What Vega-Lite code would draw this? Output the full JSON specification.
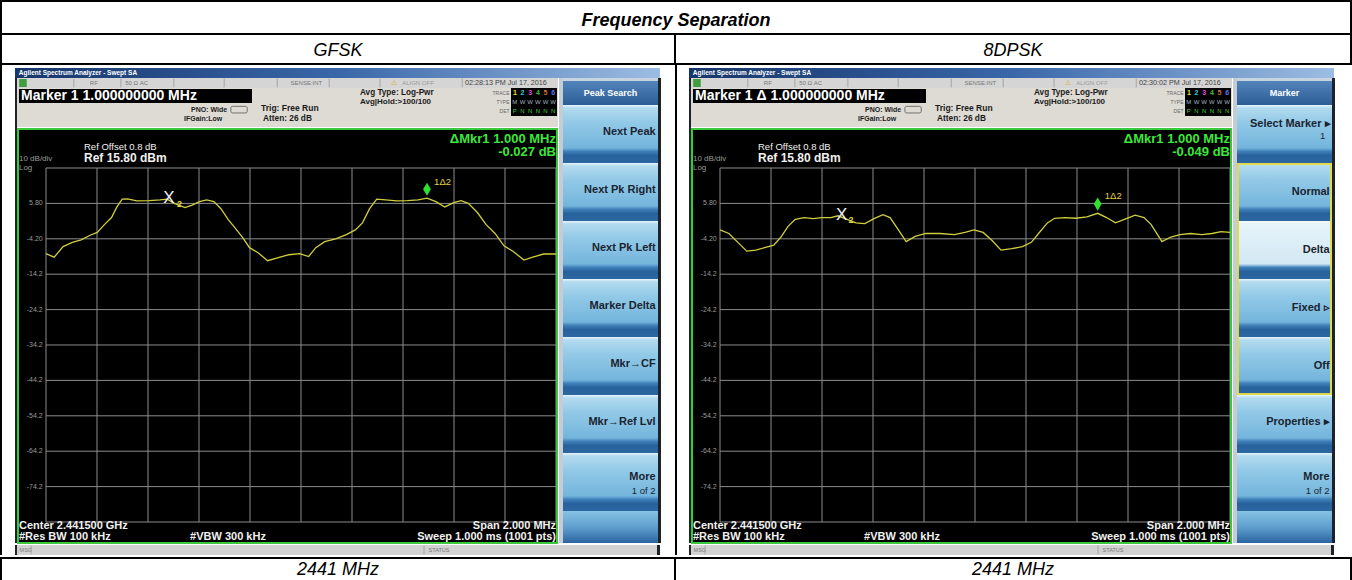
{
"$schema":"https://vega.github.io/schema/vega-lite/v6.json",
"padding":0,
"background":"#ffffff",
"spacing":0,
"config":{"view":{"stroke":null},"concat":{"spacing":0},"text":{"font":"Liberation Sans","baseline":"middle"}},
"data":{"values":[{"k":0}]},
"datasets":{
"vgrid":[{"f":2440.5},{"f":2440.7},{"f":2440.9},{"f":2441.1},{"f":2441.3},{"f":2441.5},{"f":2441.7},{"f":2441.9},{"f":2442.1},{"f":2442.3},{"f":2442.5}],
"hgrid":[{"d":15.8},{"d":5.8,"lab":"5.80"},{"d":-4.2,"lab":"-4.20"},{"d":-14.2,"lab":"-14.2"},{"d":-24.2,"lab":"-24.2"},{"d":-34.2,"lab":"-34.2"},{"d":-44.2,"lab":"-44.2"},{"d":-54.2,"lab":"-54.2"},{"d":-64.2,"lab":"-64.2"},{"d":-74.2,"lab":"-74.2"},{"d":-84.2}],
"gfsk":[{"f":2440.5,"v":-8.4},{"f":2440.532,"v":-9.4},{"f":2440.567,"v":-6.4},{"f":2440.603,"v":-5.2},{"f":2440.638,"v":-4.5},{"f":2440.673,"v":-3.2},{"f":2440.701,"v":-2.4},{"f":2440.729,"v":-0.2},{"f":2440.757,"v":1.8},{"f":2440.778,"v":4.8},{"f":2440.799,"v":7.0},{"f":2440.82,"v":7.1},{"f":2440.856,"v":6.5},{"f":2440.905,"v":6.6},{"f":2440.947,"v":6.8},{"f":2440.975,"v":7.0},{"f":2441.003,"v":5.8},{"f":2441.045,"v":4.6},{"f":2441.073,"v":5.3},{"f":2441.102,"v":6.3},{"f":2441.13,"v":6.8},{"f":2441.158,"v":6.3},{"f":2441.186,"v":4.3},{"f":2441.214,"v":1.3},{"f":2441.242,"v":-1.2},{"f":2441.27,"v":-3.7},{"f":2441.298,"v":-6.7},{"f":2441.333,"v":-8.2},{"f":2441.369,"v":-10.4},{"f":2441.411,"v":-9.5},{"f":2441.453,"v":-8.7},{"f":2441.495,"v":-8.4},{"f":2441.53,"v":-9.2},{"f":2441.558,"v":-6.7},{"f":2441.593,"v":-5.0},{"f":2441.636,"v":-4.2},{"f":2441.678,"v":-3.0},{"f":2441.713,"v":-1.7},{"f":2441.741,"v":0.3},{"f":2441.769,"v":4.3},{"f":2441.797,"v":7.0},{"f":2441.832,"v":6.8},{"f":2441.875,"v":6.5},{"f":2441.917,"v":6.6},{"f":2441.959,"v":6.8},{"f":2441.994,"v":7.3},{"f":2442.029,"v":6.3},{"f":2442.064,"v":4.8},{"f":2442.099,"v":6.0},{"f":2442.128,"v":6.6},{"f":2442.156,"v":5.8},{"f":2442.191,"v":3.3},{"f":2442.226,"v":-0.2},{"f":2442.261,"v":-2.7},{"f":2442.296,"v":-6.2},{"f":2442.331,"v":-7.7},{"f":2442.374,"v":-10.2},{"f":2442.409,"v":-9.4},{"f":2442.451,"v":-8.5},{"f":2442.5,"v":-8.5}],
"dpsk":[{"f":2440.5,"v":-1.7},{"f":2440.535,"v":-2.7},{"f":2440.57,"v":-5.2},{"f":2440.605,"v":-7.7},{"f":2440.64,"v":-7.4},{"f":2440.675,"v":-6.7},{"f":2440.711,"v":-6.0},{"f":2440.739,"v":-3.7},{"f":2440.767,"v":-0.7},{"f":2440.795,"v":1.3},{"f":2440.83,"v":1.8},{"f":2440.865,"v":1.5},{"f":2440.9,"v":1.8},{"f":2440.935,"v":1.8},{"f":2440.963,"v":2.3},{"f":2440.998,"v":1.3},{"f":2441.033,"v":0.3},{"f":2441.068,"v":0.1},{"f":2441.104,"v":1.5},{"f":2441.139,"v":2.6},{"f":2441.167,"v":1.8},{"f":2441.195,"v":-1.2},{"f":2441.23,"v":-5.0},{"f":2441.265,"v":-3.5},{"f":2441.307,"v":-2.7},{"f":2441.363,"v":-2.7},{"f":2441.419,"v":-3.0},{"f":2441.461,"v":-2.4},{"f":2441.496,"v":-1.7},{"f":2441.532,"v":-2.4},{"f":2441.567,"v":-4.7},{"f":2441.602,"v":-7.4},{"f":2441.644,"v":-7.0},{"f":2441.686,"v":-6.4},{"f":2441.721,"v":-5.2},{"f":2441.749,"v":-2.7},{"f":2441.784,"v":0.3},{"f":2441.812,"v":1.6},{"f":2441.854,"v":1.8},{"f":2441.896,"v":1.6},{"f":2441.939,"v":2.0},{"f":2441.981,"v":3.0},{"f":2442.016,"v":1.8},{"f":2442.051,"v":0.3},{"f":2442.086,"v":1.3},{"f":2442.128,"v":2.5},{"f":2442.163,"v":1.8},{"f":2442.191,"v":-0.2},{"f":2442.233,"v":-5.0},{"f":2442.268,"v":-3.7},{"f":2442.304,"v":-3.0},{"f":2442.346,"v":-2.7},{"f":2442.389,"v":-3.0},{"f":2442.43,"v":-2.7},{"f":2442.465,"v":-2.2},{"f":2442.5,"v":-2.4}],
"tbox":[{"r":"TRACE","c":"1","t":"1"},{"r":"TRACE","c":"2","t":"2"},{"r":"TRACE","c":"3","t":"3"},{"r":"TRACE","c":"4","t":"4"},{"r":"TRACE","c":"5","t":"5"},{"r":"TRACE","c":"6","t":"6"},{"r":"TYPE","c":"1","t":"M"},{"r":"TYPE","c":"2","t":"W"},{"r":"TYPE","c":"3","t":"W"},{"r":"TYPE","c":"4","t":"W"},{"r":"TYPE","c":"5","t":"W"},{"r":"TYPE","c":"6","t":"W"},{"r":"DET","c":"1","t":"P"},{"r":"DET","c":"2","t":"N"},{"r":"DET","c":"3","t":"N"},{"r":"DET","c":"4","t":"N"},{"r":"DET","c":"5","t":"N"},{"r":"DET","c":"6","t":"N"}],
"keysL":[{"k":"Next Peak"},{"k":"Next Pk Right"},{"k":"Next Pk Left"},{"k":"Marker Delta"},{"k":"Mkr→CF"},{"k":"Mkr→Ref Lvl"},{"k":"More","sub":"1 of 2"}],
"keysR1":[{"k":"Select Marker ▸","sub":"1"}],
"keysRG":[{"k":"Normal"},{"k":"Delta","sel":true},{"k":"Fixed ▹"},{"k":"Off"}],
"keysR2":[{"k":"Properties ▸"},{"k":"More","sub":"1 of 2"}]
},
"vconcat":[
{"width":1352,"height":2,"view":{"fill":"#000000"},"mark":{"type":"text","text":"","fontSize":0}},
{"hconcat":[
 {"width":2,"height":31,"view":{"fill":"#000000"},"mark":{"type":"text","text":"","fontSize":0}},
 {"width":1348,"height":31,"mark":{"type":"text","text":"Frequency Separation","fontSize":18,"fontWeight":"bold","fontStyle":"italic","align":"center","fill":"#000000"},"encoding":{"x":{"datum":0.5,"type":"quantitative","scale":{"domain":[0,1]},"axis":null},"y":{"datum":0.6,"type":"quantitative","scale":{"domain":[0,1],"reverse":true},"axis":null}}},
 {"width":2,"height":31,"view":{"fill":"#000000"},"mark":{"type":"text","text":"","fontSize":0}}
],"spacing":0,"bounds":"flush"},
{"width":1352,"height":2,"view":{"fill":"#000000"},"mark":{"type":"text","text":"","fontSize":0}},
{"hconcat":[
 {"width":2,"height":28,"view":{"fill":"#000000"},"mark":{"type":"text","text":"","fontSize":0}},
 {"width":672,"height":28,"mark":{"type":"text","text":"GFSK","fontSize":18,"fontStyle":"italic","align":"center","fill":"#000000"},"encoding":{"x":{"datum":0.5,"type":"quantitative","scale":{"domain":[0,1]},"axis":null},"y":{"datum":0.58,"type":"quantitative","scale":{"domain":[0,1],"reverse":true},"axis":null}}},
 {"width":2,"height":28,"view":{"fill":"#000000"},"mark":{"type":"text","text":"","fontSize":0}},
 {"width":674,"height":28,"mark":{"type":"text","text":"8DPSK","fontSize":18,"fontStyle":"italic","align":"center","fill":"#000000"},"encoding":{"x":{"datum":0.5,"type":"quantitative","scale":{"domain":[0,1]},"axis":null},"y":{"datum":0.58,"type":"quantitative","scale":{"domain":[0,1],"reverse":true},"axis":null}}},
 {"width":2,"height":28,"view":{"fill":"#000000"},"mark":{"type":"text","text":"","fontSize":0}}
],"spacing":0,"bounds":"flush"},
{"width":1352,"height":2,"view":{"fill":"#000000"},"mark":{"type":"text","text":"","fontSize":0}},
{"hconcat":[
 {"width":2,"height":490,"view":{"fill":"#000000"},"mark":{"type":"text","text":"","fontSize":0}},
 {"hconcat":[
  {"width":13,"height":490,"mark":{"type":"text","text":"","fontSize":0}},
  {"vconcat":[
   {"width":645,"height":3,"mark":{"type":"text","text":"","fontSize":0}},
   {"width":645,"height":10,"layer":[
    {"mark":{"type":"rect","fill":{"gradient":"linear","x1":0,"y1":0,"x2":1,"y2":0,"stops":[{"offset":0,"color":"#16366b"},{"offset":0.5,"color":"#3a67a9"},{"offset":1,"color":"#9cbde3"}]}},"encoding":{"x":{"datum":0,"type":"quantitative","scale":{"domain":[0,1],"nice":false,"zero":false},"axis":null},"x2":{"datum":1},"y":{"datum":0,"type":"quantitative","scale":{"domain":[0,1],"reverse":true,"nice":false,"zero":false},"axis":null},"y2":{"datum":1}}},
    {"mark":{"type":"text","text":"Agilent Spectrum Analyzer - Swept SA","fill":"#ffffff","fontSize":6.5,"fontWeight":"bold","align":"left"},"encoding":{"x":{"datum":0.006},"y":{"datum":0.5}}}
   ]},
   {"hconcat":[
    {"width":2,"height":465,"view":{"fill":"#1e2229"},"mark":{"type":"text","text":"","fontSize":0}},
    {"vconcat":[
     {"width":541,"height":10,"view":{"fill":"#d5d5d5"},"layer":[
      {"mark":{"type":"rect","fill":"#3f9f3f"},"encoding":{"x":{"datum":0.004,"type":"quantitative","scale":{"domain":[0,1],"nice":false,"zero":false},"axis":null},"x2":{"datum":0.018},"y":{"datum":0.1,"type":"quantitative","scale":{"domain":[0,1],"reverse":true,"nice":false,"zero":false},"axis":null},"y2":{"datum":0.9}}},
      {"mark":{"type":"rule","stroke":"#a5a5a5"},"encoding":{"x":{"datum":0.105},"y":{"datum":0.06},"y2":{"datum":0.94}}},
      {"mark":{"type":"rule","stroke":"#a5a5a5"},"encoding":{"x":{"datum":0.192},"y":{"datum":0.06},"y2":{"datum":0.94}}},
      {"mark":{"type":"rule","stroke":"#a5a5a5"},"encoding":{"x":{"datum":0.29},"y":{"datum":0.06},"y2":{"datum":0.94}}},
      {"mark":{"type":"rule","stroke":"#a5a5a5"},"encoding":{"x":{"datum":0.383},"y":{"datum":0.06},"y2":{"datum":0.94}}},
      {"mark":{"type":"rule","stroke":"#a5a5a5"},"encoding":{"x":{"datum":0.481},"y":{"datum":0.06},"y2":{"datum":0.94}}},
      {"mark":{"type":"rule","stroke":"#a5a5a5"},"encoding":{"x":{"datum":0.577},"y":{"datum":0.06},"y2":{"datum":0.94}}},
      {"mark":{"type":"rule","stroke":"#a5a5a5"},"encoding":{"x":{"datum":0.671},"y":{"datum":0.06},"y2":{"datum":0.94}}},
      {"mark":{"type":"rule","stroke":"#a5a5a5"},"encoding":{"x":{"datum":0.823},"y":{"datum":0.06},"y2":{"datum":0.94}}},
      {"mark":{"type":"text","text":"RF","fill":"#777777","fontSize":6,"align":"center"},"encoding":{"x":{"datum":0.142},"y":{"datum":0.5}}},
      {"mark":{"type":"text","text":"50 Ω   AC","fill":"#777777","fontSize":6,"align":"left"},"encoding":{"x":{"datum":0.2},"y":{"datum":0.5}}},
      {"mark":{"type":"text","text":"SENSE:INT","fill":"#777777","fontSize":6,"align":"center"},"encoding":{"x":{"datum":0.535},"y":{"datum":0.5}}},
      {"mark":{"type":"text","text":"⚠","fill":"#d0a800","fontSize":7,"align":"center"},"encoding":{"x":{"datum":0.697},"y":{"datum":0.5}}},
      {"mark":{"type":"text","text":"ALIGN OFF","fill":"#9a9a9a","fontSize":6,"align":"left"},"encoding":{"x":{"datum":0.712},"y":{"datum":0.5}}},
      {"mark":{"type":"text","text":"02:28:13 PM Jul 17, 2016","fill":"#444444","fontSize":7.2,"align":"left"},"encoding":{"x":{"datum":0.828},"y":{"datum":0.5}}}
     ]},
     {"hconcat":[
      {"width":494,"height":39,"view":{"fill":"#dedbd4"},"layer":[
       {"mark":{"type":"rect","fill":"#000000"},"encoding":{"x":{"datum":0.004,"type":"quantitative","scale":{"domain":[0,1],"nice":false,"zero":false},"axis":null},"x2":{"datum":0.4757},"y":{"datum":0.026,"type":"quantitative","scale":{"domain":[0,1],"reverse":true,"nice":false,"zero":false},"axis":null},"y2":{"datum":0.385}}},
       {"mark":{"type":"text","text":"Marker 1 1.000000000 MHz","fill":"#ffffff","fontSize":14,"fontWeight":"bold","align":"left"},"encoding":{"x":{"datum":0.0081},"y":{"datum":0.205}}},
       {"mark":{"type":"text","text":"PNO: Wide","fill":"#1a1a1a","fontSize":7,"fontWeight":"bold","align":"left"},"encoding":{"x":{"datum":0.3522},"y":{"datum":0.564}}},
       {"mark":{"type":"rect","fill":"transparent","stroke":"#555555","strokeWidth":0.8,"cornerRadius":1.5},"encoding":{"x":{"datum":0.433},"x2":{"datum":0.466},"y":{"datum":0.47},"y2":{"datum":0.64}}},
       {"mark":{"type":"text","text":"IFGain:Low","fill":"#1a1a1a","fontSize":7,"fontWeight":"bold","align":"left"},"encoding":{"x":{"datum":0.3381},"y":{"datum":0.795}}},
       {"mark":{"type":"text","text":"Trig: Free Run","fill":"#1a1a1a","fontSize":8.5,"fontWeight":"bold","align":"left"},"encoding":{"x":{"datum":0.4939},"y":{"datum":0.513}}},
       {"mark":{"type":"text","text":"Atten: 26 dB","fill":"#1a1a1a","fontSize":8.3,"fontWeight":"bold","align":"left"},"encoding":{"x":{"datum":0.498},"y":{"datum":0.795}}},
       {"mark":{"type":"text","text":"Avg Type: Log-Pwr","fill":"#1a1a1a","fontSize":8.2,"fontWeight":"bold","align":"left"},"encoding":{"x":{"datum":0.6943},"y":{"datum":0.13}}},
       {"mark":{"type":"text","text":"Avg|Hold:>100/100","fill":"#1a1a1a","fontSize":8,"fontWeight":"bold","align":"left"},"encoding":{"x":{"datum":0.6943},"y":{"datum":0.37}}},
       {"mark":{"type":"text","text":"TRACE","fill":"#666666","fontSize":5,"align":"right"},"encoding":{"x":{"datum":0.997},"y":{"datum":0.12}}},
       {"mark":{"type":"text","text":"TYPE","fill":"#666666","fontSize":5,"align":"right"},"encoding":{"x":{"datum":0.997},"y":{"datum":0.36}}},
       {"mark":{"type":"text","text":"DET","fill":"#666666","fontSize":5,"align":"right"},"encoding":{"x":{"datum":0.997},"y":{"datum":0.6}}}
      ]},
      {"vconcat":[
       {"width":46,"height":28,"view":{"fill":"#000000"},"data":{"name":"tbox"},"layer":[
        {"transform":[{"filter":"datum.r == 'TRACE'"}],"mark":{"type":"text","fontSize":7,"fontWeight":"bold","align":"center"},"encoding":{"x":{"field":"c","type":"ordinal","scale":{"type":"point","padding":0.5},"axis":null},"y":{"field":"r","type":"nominal","scale":{"domain":["TRACE","TYPE","DET"],"paddingInner":0,"paddingOuter":0},"axis":null},"text":{"field":"t"},"color":{"field":"c","type":"nominal","scale":{"domain":["1","2","3","4","5","6"],"range":["#e8e830","#30d0d0","#e050e0","#40c040","#d07040","#6070ff"]},"legend":null}}},
        {"transform":[{"filter":"datum.r != 'TRACE'"}],"mark":{"type":"text","fontSize":6,"align":"center"},"encoding":{"x":{"field":"c","type":"ordinal"},"y":{"field":"r","type":"nominal"},"text":{"field":"t"},"fill":{"condition":{"test":"datum.r == 'DET'","value":"#40d040"},"value":"#a0b4c4"}}}
       ]},
       {"width":46,"height":11,"view":{"fill":"#dedbd4"},"mark":{"type":"text","text":"","fontSize":0}}
      ],"spacing":0,"bounds":"flush"},
      {"width":1,"height":39,"view":{"fill":"#dedbd4"},"mark":{"type":"text","text":"","fontSize":0}}
     ],"spacing":0},
     {"width":541,"height":416,"view":{"fill":"#000000"},"layer":[
      {"data":{"name":"vgrid"},"mark":{"type":"rule","stroke":"#8c8c8c","strokeWidth":1},"encoding":{"x":{"field":"f","type":"quantitative","scale":{"domain":[2440.38627,2442.50784],"nice":false,"zero":false},"axis":null},"y":{"datum":-84.2,"type":"quantitative","scale":{"domain":[-90.415,27.0994],"nice":false,"zero":false},"axis":null},"y2":{"datum":15.8}}},
      {"data":{"name":"hgrid"},"mark":{"type":"rule","stroke":"#8c8c8c","strokeWidth":1},"encoding":{"y":{"field":"d","type":"quantitative"},"x":{"datum":2440.5},"x2":{"datum":2442.5}}},
      {"data":{"name":"hgrid"},"transform":[{"filter":"datum.lab"}],"mark":{"type":"text","align":"right","fontSize":7,"fill":"#9a9a9a"},"encoding":{"y":{"field":"d","type":"quantitative"},"x":{"datum":2440.487},"text":{"field":"lab"}}},
      {"data":{"name":"gfsk"},"mark":{"type":"line","stroke":"#cfcf3c","strokeWidth":1.3},"encoding":{"x":{"field":"f","type":"quantitative"},"y":{"field":"v","type":"quantitative"}}},
      {"mark":{"type":"text","text":"X","fill":"#f2f2f2","fontSize":17,"align":"center"},"encoding":{"x":{"datum":2440.982},"y":{"datum":7.3}}},
      {"mark":{"type":"text","text":"2","fill":"#e0d040","fontSize":9,"fontWeight":"bold","align":"center"},"encoding":{"x":{"datum":2441.024},"y":{"datum":5.6}}},
      {"mark":{"type":"point","shape":"M0,-1L0.6,0L0,1L-0.6,0Z","size":170,"filled":true,"fill":"#2fe02f","opacity":1},"encoding":{"x":{"datum":2441.994},"y":{"datum":9.8}}},
      {"mark":{"type":"text","text":"1Δ2","fill":"#e0d040","fontSize":9.5,"align":"left"},"encoding":{"x":{"datum":2442.022},"y":{"datum":11.8}}},
      {"mark":{"type":"text","text":"Ref Offset 0.8 dB","fill":"#f0f0f0","fontSize":9.5,"align":"left"},"encoding":{"x":{"datum":2440.649},"y":{"datum":21.73}}},
      {"mark":{"type":"text","text":"Ref 15.80 dBm","fill":"#f0f0f0","fontSize":12,"fontWeight":"bold","align":"left"},"encoding":{"x":{"datum":2440.649},"y":{"datum":18.63}}},
      {"mark":{"type":"text","text":"10 dB/div","fill":"#9a9a9a","fontSize":8,"align":"left"},"encoding":{"x":{"datum":2440.394},"y":{"datum":18.34}}},
      {"mark":{"type":"text","text":"Log","fill":"#9a9a9a","fontSize":8,"align":"left"},"encoding":{"x":{"datum":2440.394},"y":{"datum":15.9}}},
      {"mark":{"type":"text","text":"ΔMkr1 1.000 MHz","fill":"#3ce63c","fontSize":13,"fontWeight":"bold","align":"right"},"encoding":{"x":{"datum":2442.5},"y":{"datum":23.99}}},
      {"mark":{"type":"text","text":"-0.027 dB","fill":"#3ce63c","fontSize":13,"fontWeight":"bold","align":"right"},"encoding":{"x":{"datum":2442.5},"y":{"datum":20.3}}},
      {"mark":{"type":"text","text":"Center 2.441500 GHz","fill":"#f0f0f0","fontSize":11,"fontWeight":"bold","align":"left"},"encoding":{"x":{"datum":2440.394},"y":{"datum":-85.33}}},
      {"mark":{"type":"text","text":"#Res BW 100 kHz","fill":"#f0f0f0","fontSize":11,"fontWeight":"bold","align":"left"},"encoding":{"x":{"datum":2440.394},"y":{"datum":-88.44}}},
      {"mark":{"type":"text","text":"#VBW 300 kHz","fill":"#f0f0f0","fontSize":11,"fontWeight":"bold","align":"left"},"encoding":{"x":{"datum":2441.065},"y":{"datum":-88.44}}},
      {"mark":{"type":"text","text":"Span 2.000 MHz","fill":"#f0f0f0","fontSize":11,"fontWeight":"bold","align":"right"},"encoding":{"x":{"datum":2442.5},"y":{"datum":-85.33}}},
      {"mark":{"type":"text","text":"Sweep  1.000 ms (1001 pts)","fill":"#f0f0f0","fontSize":11,"fontWeight":"bold","align":"right"},"encoding":{"x":{"datum":2442.5},"y":{"datum":-88.44}}},
      {"mark":{"type":"rect","fill":"transparent","stroke":"#3cc83c","strokeWidth":2},"encoding":{"x":{"datum":2440.3902},"x2":{"datum":2442.5039},"y":{"datum":26.817},"y2":{"datum":-90.133}}}
     ]}
    ],"spacing":0},
    {"width":4,"height":465,"view":{"fill":"#c4ccd4"},"mark":{"type":"text","text":"","fontSize":0}},
    {"vconcat":[
     {"width":95,"height":27,"layer":[
      {"mark":{"type":"rect","fill":{"gradient":"linear","x1":0,"y1":0,"x2":0,"y2":1,"stops":[{"offset":0,"color":"#c7d3df"},{"offset":0.1,"color":"#c7d3df"},{"offset":0.12,"color":"#5283ba"},{"offset":1,"color":"#2c5e96"}]}},"encoding":{"x":{"datum":0,"type":"quantitative","scale":{"domain":[0,1],"nice":false,"zero":false},"axis":null},"x2":{"datum":1},"y":{"datum":0,"type":"quantitative","scale":{"domain":[0,1],"reverse":true,"nice":false,"zero":false},"axis":null},"y2":{"datum":1}}},
      {"mark":{"type":"text","text":"Peak Search","fill":"#ffffff","fontSize":9,"fontWeight":"bold","align":"center"},"encoding":{"x":{"datum":0.5},"y":{"datum":0.56}}}
     ]},
     {"width":95,"height":406,"data":{"name":"keysL"},"layer":[
      {"mark":{"type":"rect","fill":{"gradient":"linear","x1":0,"y1":0,"x2":0,"y2":1,"stops":[{"offset":0,"color":"#e8f5fc"},{"offset":0.05,"color":"#b3dbef"},{"offset":0.3,"color":"#92c9e7"},{"offset":0.74,"color":"#74b5dc"},{"offset":0.8,"color":"#3f80b9"},{"offset":0.87,"color":"#28629c"},{"offset":1,"color":"#2c67a1"}]}},"encoding":{"y":{"field":"k","type":"nominal","scale":{"domain":["Next Peak","Next Pk Right","Next Pk Left","Marker Delta","Mkr→CF","Mkr→Ref Lvl","More"],"paddingInner":0,"paddingOuter":0},"axis":null},"x":{"datum":0,"type":"quantitative","scale":{"domain":[0,1],"nice":false,"zero":false},"axis":null},"x2":{"datum":1}}},
      {"transform":[{"filter":"!datum.sub"}],"mark":{"type":"text","align":"right","fontSize":11,"fontWeight":"bold","fill":"#1a2430"},"encoding":{"y":{"field":"k","type":"nominal","bandPosition":0.46},"x":{"datum":0.975},"text":{"field":"k"}}},
      {"transform":[{"filter":"datum.sub"}],"mark":{"type":"text","align":"right","fontSize":11,"fontWeight":"bold","fill":"#1a2430"},"encoding":{"y":{"field":"k","type":"nominal","bandPosition":0.42},"x":{"datum":0.975},"text":{"field":"k"}}},
      {"transform":[{"filter":"datum.sub"}],"mark":{"type":"text","align":"right","fontSize":9.5,"fill":"#1a2430"},"encoding":{"y":{"field":"k","type":"nominal","bandPosition":0.66},"x":{"datum":0.975},"text":{"field":"sub"}}}
     ]},
     {"width":95,"height":32,"layer":[
      {"mark":{"type":"rect","fill":{"gradient":"linear","x1":0,"y1":0,"x2":0,"y2":1,"stops":[{"offset":0,"color":"#86c2e3"},{"offset":0.5,"color":"#5f9fcf"},{"offset":1,"color":"#2b64a0"}]}},"encoding":{"x":{"datum":0,"type":"quantitative","scale":{"domain":[0,1],"nice":false,"zero":false},"axis":null},"x2":{"datum":1},"y":{"datum":0,"type":"quantitative","scale":{"domain":[0,1],"reverse":true,"nice":false,"zero":false},"axis":null},"y2":{"datum":1}}}
     ]}
    ],"spacing":0,"bounds":"flush"},
    {"width":3,"height":465,"view":{"fill":"#1e2229"},"mark":{"type":"text","text":"","fontSize":0}}
   ],"spacing":0},
   {"hconcat":[
    {"width":2,"height":10,"view":{"fill":"#1e2229"},"mark":{"type":"text","text":"","fontSize":0}},
    {"width":640,"height":10,"view":{"fill":"#d2d2d2"},"layer":[
     {"mark":{"type":"text","text":"MSG","fill":"#777777","fontSize":5.5,"align":"left"},"encoding":{"x":{"datum":0.004,"type":"quantitative","scale":{"domain":[0,1],"nice":false,"zero":false},"axis":null},"y":{"datum":0.5,"type":"quantitative","scale":{"domain":[0,1],"reverse":true,"nice":false,"zero":false},"axis":null}}},
     {"mark":{"type":"rule","stroke":"#a8a8a8"},"encoding":{"x":{"datum":0.022},"y":{"datum":0.06},"y2":{"datum":0.94}}},
     {"mark":{"type":"rule","stroke":"#a8a8a8"},"encoding":{"x":{"datum":0.636},"y":{"datum":0.06},"y2":{"datum":0.94}}},
     {"mark":{"type":"text","text":"STATUS","fill":"#777777","fontSize":5.5,"align":"left"},"encoding":{"x":{"datum":0.643},"y":{"datum":0.5}}}
    ]},
    {"width":3,"height":10,"view":{"fill":"#1e2229"},"mark":{"type":"text","text":"","fontSize":0}}
   ],"spacing":0,"bounds":"flush"},
   {"width":645,"height":2,"mark":{"type":"text","text":"","fontSize":0}}
  ],"spacing":0},
  {"width":14,"height":490,"mark":{"type":"text","text":"","fontSize":0}}
 ],"spacing":0},
 {"width":2,"height":490,"view":{"fill":"#000000"},"mark":{"type":"text","text":"","fontSize":0}},
 {"hconcat":[
  {"width":12,"height":490,"mark":{"type":"text","text":"","fontSize":0}},
  {"vconcat":[
   {"width":645,"height":3,"mark":{"type":"text","text":"","fontSize":0}},
   {"width":645,"height":10,"layer":[
    {"mark":{"type":"rect","fill":{"gradient":"linear","x1":0,"y1":0,"x2":1,"y2":0,"stops":[{"offset":0,"color":"#16366b"},{"offset":0.5,"color":"#3a67a9"},{"offset":1,"color":"#9cbde3"}]}},"encoding":{"x":{"datum":0,"type":"quantitative","scale":{"domain":[0,1],"nice":false,"zero":false},"axis":null},"x2":{"datum":1},"y":{"datum":0,"type":"quantitative","scale":{"domain":[0,1],"reverse":true,"nice":false,"zero":false},"axis":null},"y2":{"datum":1}}},
    {"mark":{"type":"text","text":"Agilent Spectrum Analyzer - Swept SA","fill":"#ffffff","fontSize":6.5,"fontWeight":"bold","align":"left"},"encoding":{"x":{"datum":0.006},"y":{"datum":0.5}}}
   ]},
   {"hconcat":[
    {"width":2,"height":465,"view":{"fill":"#1e2229"},"mark":{"type":"text","text":"","fontSize":0}},
    {"vconcat":[
     {"width":541,"height":10,"view":{"fill":"#d5d5d5"},"layer":[
      {"mark":{"type":"rect","fill":"#3f9f3f"},"encoding":{"x":{"datum":0.004,"type":"quantitative","scale":{"domain":[0,1],"nice":false,"zero":false},"axis":null},"x2":{"datum":0.018},"y":{"datum":0.1,"type":"quantitative","scale":{"domain":[0,1],"reverse":true,"nice":false,"zero":false},"axis":null},"y2":{"datum":0.9}}},
      {"mark":{"type":"rule","stroke":"#a5a5a5"},"encoding":{"x":{"datum":0.105},"y":{"datum":0.06},"y2":{"datum":0.94}}},
      {"mark":{"type":"rule","stroke":"#a5a5a5"},"encoding":{"x":{"datum":0.192},"y":{"datum":0.06},"y2":{"datum":0.94}}},
      {"mark":{"type":"rule","stroke":"#a5a5a5"},"encoding":{"x":{"datum":0.29},"y":{"datum":0.06},"y2":{"datum":0.94}}},
      {"mark":{"type":"rule","stroke":"#a5a5a5"},"encoding":{"x":{"datum":0.383},"y":{"datum":0.06},"y2":{"datum":0.94}}},
      {"mark":{"type":"rule","stroke":"#a5a5a5"},"encoding":{"x":{"datum":0.481},"y":{"datum":0.06},"y2":{"datum":0.94}}},
      {"mark":{"type":"rule","stroke":"#a5a5a5"},"encoding":{"x":{"datum":0.577},"y":{"datum":0.06},"y2":{"datum":0.94}}},
      {"mark":{"type":"rule","stroke":"#a5a5a5"},"encoding":{"x":{"datum":0.671},"y":{"datum":0.06},"y2":{"datum":0.94}}},
      {"mark":{"type":"rule","stroke":"#a5a5a5"},"encoding":{"x":{"datum":0.823},"y":{"datum":0.06},"y2":{"datum":0.94}}},
      {"mark":{"type":"text","text":"RF","fill":"#777777","fontSize":6,"align":"center"},"encoding":{"x":{"datum":0.142},"y":{"datum":0.5}}},
      {"mark":{"type":"text","text":"50 Ω   AC","fill":"#777777","fontSize":6,"align":"left"},"encoding":{"x":{"datum":0.2},"y":{"datum":0.5}}},
      {"mark":{"type":"text","text":"SENSE:INT","fill":"#777777","fontSize":6,"align":"center"},"encoding":{"x":{"datum":0.535},"y":{"datum":0.5}}},
      {"mark":{"type":"text","text":"⚠","fill":"#d0a800","fontSize":7,"align":"center"},"encoding":{"x":{"datum":0.697},"y":{"datum":0.5}}},
      {"mark":{"type":"text","text":"ALIGN OFF","fill":"#9a9a9a","fontSize":6,"align":"left"},"encoding":{"x":{"datum":0.712},"y":{"datum":0.5}}},
      {"mark":{"type":"text","text":"02:30:02 PM Jul 17, 2016","fill":"#444444","fontSize":7.2,"align":"left"},"encoding":{"x":{"datum":0.828},"y":{"datum":0.5}}}
     ]},
     {"hconcat":[
      {"width":494,"height":39,"view":{"fill":"#dedbd4"},"layer":[
       {"mark":{"type":"rect","fill":"#000000"},"encoding":{"x":{"datum":0.004,"type":"quantitative","scale":{"domain":[0,1],"nice":false,"zero":false},"axis":null},"x2":{"datum":0.4757},"y":{"datum":0.026,"type":"quantitative","scale":{"domain":[0,1],"reverse":true,"nice":false,"zero":false},"axis":null},"y2":{"datum":0.385}}},
       {"mark":{"type":"text","text":"Marker 1 Δ 1.000000000 MHz","fill":"#ffffff","fontSize":14,"fontWeight":"bold","align":"left"},"encoding":{"x":{"datum":0.0081},"y":{"datum":0.205}}},
       {"mark":{"type":"text","text":"PNO: Wide","fill":"#1a1a1a","fontSize":7,"fontWeight":"bold","align":"left"},"encoding":{"x":{"datum":0.3522},"y":{"datum":0.564}}},
       {"mark":{"type":"rect","fill":"transparent","stroke":"#555555","strokeWidth":0.8,"cornerRadius":1.5},"encoding":{"x":{"datum":0.433},"x2":{"datum":0.466},"y":{"datum":0.47},"y2":{"datum":0.64}}},
       {"mark":{"type":"text","text":"IFGain:Low","fill":"#1a1a1a","fontSize":7,"fontWeight":"bold","align":"left"},"encoding":{"x":{"datum":0.3381},"y":{"datum":0.795}}},
       {"mark":{"type":"text","text":"Trig: Free Run","fill":"#1a1a1a","fontSize":8.5,"fontWeight":"bold","align":"left"},"encoding":{"x":{"datum":0.4939},"y":{"datum":0.513}}},
       {"mark":{"type":"text","text":"Atten: 26 dB","fill":"#1a1a1a","fontSize":8.3,"fontWeight":"bold","align":"left"},"encoding":{"x":{"datum":0.498},"y":{"datum":0.795}}},
       {"mark":{"type":"text","text":"Avg Type: Log-Pwr","fill":"#1a1a1a","fontSize":8.2,"fontWeight":"bold","align":"left"},"encoding":{"x":{"datum":0.6943},"y":{"datum":0.13}}},
       {"mark":{"type":"text","text":"Avg|Hold:>100/100","fill":"#1a1a1a","fontSize":8,"fontWeight":"bold","align":"left"},"encoding":{"x":{"datum":0.6943},"y":{"datum":0.37}}},
       {"mark":{"type":"text","text":"TRACE","fill":"#666666","fontSize":5,"align":"right"},"encoding":{"x":{"datum":0.997},"y":{"datum":0.12}}},
       {"mark":{"type":"text","text":"TYPE","fill":"#666666","fontSize":5,"align":"right"},"encoding":{"x":{"datum":0.997},"y":{"datum":0.36}}},
       {"mark":{"type":"text","text":"DET","fill":"#666666","fontSize":5,"align":"right"},"encoding":{"x":{"datum":0.997},"y":{"datum":0.6}}}
      ]},
      {"vconcat":[
       {"width":46,"height":28,"view":{"fill":"#000000"},"data":{"name":"tbox"},"layer":[
        {"transform":[{"filter":"datum.r == 'TRACE'"}],"mark":{"type":"text","fontSize":7,"fontWeight":"bold","align":"center"},"encoding":{"x":{"field":"c","type":"ordinal","scale":{"type":"point","padding":0.5},"axis":null},"y":{"field":"r","type":"nominal","scale":{"domain":["TRACE","TYPE","DET"],"paddingInner":0,"paddingOuter":0},"axis":null},"text":{"field":"t"},"color":{"field":"c","type":"nominal","scale":{"domain":["1","2","3","4","5","6"],"range":["#e8e830","#30d0d0","#e050e0","#40c040","#d07040","#6070ff"]},"legend":null}}},
        {"transform":[{"filter":"datum.r != 'TRACE'"}],"mark":{"type":"text","fontSize":6,"align":"center"},"encoding":{"x":{"field":"c","type":"ordinal"},"y":{"field":"r","type":"nominal"},"text":{"field":"t"},"fill":{"condition":{"test":"datum.r == 'DET'","value":"#40d040"},"value":"#a0b4c4"}}}
       ]},
       {"width":46,"height":11,"view":{"fill":"#dedbd4"},"mark":{"type":"text","text":"","fontSize":0}}
      ],"spacing":0,"bounds":"flush"},
      {"width":1,"height":39,"view":{"fill":"#dedbd4"},"mark":{"type":"text","text":"","fontSize":0}}
     ],"spacing":0},
     {"width":541,"height":416,"view":{"fill":"#000000"},"layer":[
      {"data":{"name":"vgrid"},"mark":{"type":"rule","stroke":"#8c8c8c","strokeWidth":1},"encoding":{"x":{"field":"f","type":"quantitative","scale":{"domain":[2440.38627,2442.50784],"nice":false,"zero":false},"axis":null},"y":{"datum":-84.2,"type":"quantitative","scale":{"domain":[-90.415,27.0994],"nice":false,"zero":false},"axis":null},"y2":{"datum":15.8}}},
      {"data":{"name":"hgrid"},"mark":{"type":"rule","stroke":"#8c8c8c","strokeWidth":1},"encoding":{"y":{"field":"d","type":"quantitative"},"x":{"datum":2440.5},"x2":{"datum":2442.5}}},
      {"data":{"name":"hgrid"},"transform":[{"filter":"datum.lab"}],"mark":{"type":"text","align":"right","fontSize":7,"fill":"#9a9a9a"},"encoding":{"y":{"field":"d","type":"quantitative"},"x":{"datum":2440.487},"text":{"field":"lab"}}},
      {"data":{"name":"dpsk"},"mark":{"type":"line","stroke":"#cfcf3c","strokeWidth":1.3},"encoding":{"x":{"field":"f","type":"quantitative"},"y":{"field":"v","type":"quantitative"}}},
      {"mark":{"type":"text","text":"X","fill":"#f2f2f2","fontSize":17,"align":"center"},"encoding":{"x":{"datum":2440.977},"y":{"datum":2.6}}},
      {"mark":{"type":"text","text":"2","fill":"#e0d040","fontSize":9,"fontWeight":"bold","align":"center"},"encoding":{"x":{"datum":2441.014},"y":{"datum":1.0}}},
      {"mark":{"type":"point","shape":"M0,-1L0.6,0L0,1L-0.6,0Z","size":170,"filled":true,"fill":"#2fe02f","opacity":1},"encoding":{"x":{"datum":2441.981},"y":{"datum":5.6}}},
      {"mark":{"type":"text","text":"1Δ2","fill":"#e0d040","fontSize":9.5,"align":"left"},"encoding":{"x":{"datum":2442.009},"y":{"datum":8.0}}},
      {"mark":{"type":"text","text":"Ref Offset 0.8 dB","fill":"#f0f0f0","fontSize":9.5,"align":"left"},"encoding":{"x":{"datum":2440.649},"y":{"datum":21.73}}},
      {"mark":{"type":"text","text":"Ref 15.80 dBm","fill":"#f0f0f0","fontSize":12,"fontWeight":"bold","align":"left"},"encoding":{"x":{"datum":2440.649},"y":{"datum":18.63}}},
      {"mark":{"type":"text","text":"10 dB/div","fill":"#9a9a9a","fontSize":8,"align":"left"},"encoding":{"x":{"datum":2440.394},"y":{"datum":18.34}}},
      {"mark":{"type":"text","text":"Log","fill":"#9a9a9a","fontSize":8,"align":"left"},"encoding":{"x":{"datum":2440.394},"y":{"datum":15.9}}},
      {"mark":{"type":"text","text":"ΔMkr1 1.000 MHz","fill":"#3ce63c","fontSize":13,"fontWeight":"bold","align":"right"},"encoding":{"x":{"datum":2442.5},"y":{"datum":23.99}}},
      {"mark":{"type":"text","text":"-0.049 dB","fill":"#3ce63c","fontSize":13,"fontWeight":"bold","align":"right"},"encoding":{"x":{"datum":2442.5},"y":{"datum":20.3}}},
      {"mark":{"type":"text","text":"Center 2.441500 GHz","fill":"#f0f0f0","fontSize":11,"fontWeight":"bold","align":"left"},"encoding":{"x":{"datum":2440.394},"y":{"datum":-85.33}}},
      {"mark":{"type":"text","text":"#Res BW 100 kHz","fill":"#f0f0f0","fontSize":11,"fontWeight":"bold","align":"left"},"encoding":{"x":{"datum":2440.394},"y":{"datum":-88.44}}},
      {"mark":{"type":"text","text":"#VBW 300 kHz","fill":"#f0f0f0","fontSize":11,"fontWeight":"bold","align":"left"},"encoding":{"x":{"datum":2441.065},"y":{"datum":-88.44}}},
      {"mark":{"type":"text","text":"Span 2.000 MHz","fill":"#f0f0f0","fontSize":11,"fontWeight":"bold","align":"right"},"encoding":{"x":{"datum":2442.5},"y":{"datum":-85.33}}},
      {"mark":{"type":"text","text":"Sweep  1.000 ms (1001 pts)","fill":"#f0f0f0","fontSize":11,"fontWeight":"bold","align":"right"},"encoding":{"x":{"datum":2442.5},"y":{"datum":-88.44}}},
      {"mark":{"type":"rect","fill":"transparent","stroke":"#3cc83c","strokeWidth":2},"encoding":{"x":{"datum":2440.3902},"x2":{"datum":2442.5039},"y":{"datum":26.817},"y2":{"datum":-90.133}}}
     ]}
    ],"spacing":0},
    {"width":4,"height":465,"view":{"fill":"#c4ccd4"},"mark":{"type":"text","text":"","fontSize":0}},
    {"vconcat":[
     {"width":95,"height":27,"layer":[
      {"mark":{"type":"rect","fill":{"gradient":"linear","x1":0,"y1":0,"x2":0,"y2":1,"stops":[{"offset":0,"color":"#c7d3df"},{"offset":0.1,"color":"#c7d3df"},{"offset":0.12,"color":"#5283ba"},{"offset":1,"color":"#2c5e96"}]}},"encoding":{"x":{"datum":0,"type":"quantitative","scale":{"domain":[0,1],"nice":false,"zero":false},"axis":null},"x2":{"datum":1},"y":{"datum":0,"type":"quantitative","scale":{"domain":[0,1],"reverse":true,"nice":false,"zero":false},"axis":null},"y2":{"datum":1}}},
      {"mark":{"type":"text","text":"Marker","fill":"#ffffff","fontSize":9,"fontWeight":"bold","align":"center"},"encoding":{"x":{"datum":0.5},"y":{"datum":0.56}}}
     ]},
     {"width":95,"height":58,"data":{"name":"keysR1"},"layer":[
      {"mark":{"type":"rect","fill":{"gradient":"linear","x1":0,"y1":0,"x2":0,"y2":1,"stops":[{"offset":0,"color":"#e8f5fc"},{"offset":0.05,"color":"#b3dbef"},{"offset":0.3,"color":"#92c9e7"},{"offset":0.74,"color":"#74b5dc"},{"offset":0.8,"color":"#3f80b9"},{"offset":0.87,"color":"#28629c"},{"offset":1,"color":"#2c67a1"}]}},"encoding":{"y":{"field":"k","type":"nominal","scale":{"domain":["Select Marker ▸"],"paddingInner":0,"paddingOuter":0},"axis":null},"x":{"datum":0,"type":"quantitative","scale":{"domain":[0,1],"nice":false,"zero":false},"axis":null},"x2":{"datum":1}}},
      {"mark":{"type":"text","align":"right","fontSize":11,"fontWeight":"bold","fill":"#1a2430"},"encoding":{"y":{"field":"k","type":"nominal","bandPosition":0.32},"x":{"datum":0.985},"text":{"field":"k"}}},
      {"mark":{"type":"text","align":"right","fontSize":9.5,"fill":"#1a2430"},"encoding":{"y":{"field":"k","type":"nominal","bandPosition":0.54},"x":{"datum":0.93},"text":{"field":"sub"}}}
     ]},
     {"width":95,"height":232,"data":{"name":"keysRG"},"resolve":{"scale":{"y":"independent"}},"layer":[
      {"mark":{"type":"rect","fill":{"gradient":"linear","x1":0,"y1":0,"x2":0,"y2":1,"stops":[{"offset":0,"color":"#e8f5fc"},{"offset":0.05,"color":"#b3dbef"},{"offset":0.3,"color":"#92c9e7"},{"offset":0.74,"color":"#74b5dc"},{"offset":0.8,"color":"#3f80b9"},{"offset":0.87,"color":"#28629c"},{"offset":1,"color":"#2c67a1"}]}},"encoding":{"y":{"field":"k","type":"nominal","scale":{"domain":["Normal","Delta","Fixed ▹","Off"],"paddingInner":0,"paddingOuter":0},"axis":null},"x":{"datum":0,"type":"quantitative","scale":{"domain":[0,1],"nice":false,"zero":false},"axis":null},"x2":{"datum":1}}},
      {"transform":[{"filter":"datum.sel"}],"mark":{"type":"rect","fill":{"gradient":"linear","x1":0,"y1":0,"x2":0,"y2":1,"stops":[{"offset":0,"color":"#f6fbfe"},{"offset":0.05,"color":"#e6f3fa"},{"offset":0.74,"color":"#d2e8f3"},{"offset":0.8,"color":"#3f80b9"},{"offset":0.87,"color":"#28629c"},{"offset":1,"color":"#2c67a1"}]}},"encoding":{"y":{"field":"k","type":"nominal","scale":{"domain":["Normal","Delta","Fixed ▹","Off"],"paddingInner":0,"paddingOuter":0},"axis":null},"x":{"datum":0},"x2":{"datum":1}}},
      {"mark":{"type":"text","align":"right","fontSize":11,"fontWeight":"bold","fill":"#1a2430"},"encoding":{"y":{"field":"k","type":"nominal","bandPosition":0.46,"scale":{"domain":["Normal","Delta","Fixed ▹","Off"],"paddingInner":0,"paddingOuter":0},"axis":null},"x":{"datum":0.975},"text":{"field":"k"}}},
      {"mark":{"type":"rect","fill":"transparent","stroke":"#e2da4a","strokeWidth":1.5},"encoding":{"x":{"datum":0.008},"x2":{"datum":0.992},"y":{"datum":0.0035,"type":"quantitative","scale":{"domain":[0,1],"reverse":true,"nice":false,"zero":false},"axis":null},"y2":{"datum":0.9965}}}
     ]},
     {"width":95,"height":116,"data":{"name":"keysR2"},"layer":[
      {"mark":{"type":"rect","fill":{"gradient":"linear","x1":0,"y1":0,"x2":0,"y2":1,"stops":[{"offset":0,"color":"#e8f5fc"},{"offset":0.05,"color":"#b3dbef"},{"offset":0.3,"color":"#92c9e7"},{"offset":0.74,"color":"#74b5dc"},{"offset":0.8,"color":"#3f80b9"},{"offset":0.87,"color":"#28629c"},{"offset":1,"color":"#2c67a1"}]}},"encoding":{"y":{"field":"k","type":"nominal","scale":{"domain":["Properties ▸","More"],"paddingInner":0,"paddingOuter":0},"axis":null},"x":{"datum":0,"type":"quantitative","scale":{"domain":[0,1],"nice":false,"zero":false},"axis":null},"x2":{"datum":1}}},
      {"transform":[{"filter":"!datum.sub"}],"mark":{"type":"text","align":"right","fontSize":11,"fontWeight":"bold","fill":"#1a2430"},"encoding":{"y":{"field":"k","type":"nominal","bandPosition":0.46},"x":{"datum":0.975},"text":{"field":"k"}}},
      {"transform":[{"filter":"datum.sub"}],"mark":{"type":"text","align":"right","fontSize":11,"fontWeight":"bold","fill":"#1a2430"},"encoding":{"y":{"field":"k","type":"nominal","bandPosition":0.42},"x":{"datum":0.975},"text":{"field":"k"}}},
      {"transform":[{"filter":"datum.sub"}],"mark":{"type":"text","align":"right","fontSize":9.5,"fill":"#1a2430"},"encoding":{"y":{"field":"k","type":"nominal","bandPosition":0.66},"x":{"datum":0.975},"text":{"field":"sub"}}}
     ]},
     {"width":95,"height":32,"layer":[
      {"mark":{"type":"rect","fill":{"gradient":"linear","x1":0,"y1":0,"x2":0,"y2":1,"stops":[{"offset":0,"color":"#86c2e3"},{"offset":0.5,"color":"#5f9fcf"},{"offset":1,"color":"#2b64a0"}]}},"encoding":{"x":{"datum":0,"type":"quantitative","scale":{"domain":[0,1],"nice":false,"zero":false},"axis":null},"x2":{"datum":1},"y":{"datum":0,"type":"quantitative","scale":{"domain":[0,1],"reverse":true,"nice":false,"zero":false},"axis":null},"y2":{"datum":1}}}
     ]}
    ],"spacing":0,"bounds":"flush"},
    {"width":3,"height":465,"view":{"fill":"#1e2229"},"mark":{"type":"text","text":"","fontSize":0}}
   ],"spacing":0},
   {"hconcat":[
    {"width":2,"height":10,"view":{"fill":"#1e2229"},"mark":{"type":"text","text":"","fontSize":0}},
    {"width":640,"height":10,"view":{"fill":"#d2d2d2"},"layer":[
     {"mark":{"type":"text","text":"MSG","fill":"#777777","fontSize":5.5,"align":"left"},"encoding":{"x":{"datum":0.004,"type":"quantitative","scale":{"domain":[0,1],"nice":false,"zero":false},"axis":null},"y":{"datum":0.5,"type":"quantitative","scale":{"domain":[0,1],"reverse":true,"nice":false,"zero":false},"axis":null}}},
     {"mark":{"type":"rule","stroke":"#a8a8a8"},"encoding":{"x":{"datum":0.022},"y":{"datum":0.06},"y2":{"datum":0.94}}},
     {"mark":{"type":"rule","stroke":"#a8a8a8"},"encoding":{"x":{"datum":0.636},"y":{"datum":0.06},"y2":{"datum":0.94}}},
     {"mark":{"type":"text","text":"STATUS","fill":"#777777","fontSize":5.5,"align":"left"},"encoding":{"x":{"datum":0.643},"y":{"datum":0.5}}}
    ]},
    {"width":3,"height":10,"view":{"fill":"#1e2229"},"mark":{"type":"text","text":"","fontSize":0}}
   ],"spacing":0,"bounds":"flush"},
   {"width":645,"height":2,"mark":{"type":"text","text":"","fontSize":0}}
  ],"spacing":0},
  {"width":17,"height":490,"mark":{"type":"text","text":"","fontSize":0}}
 ],"spacing":0},
 {"width":2,"height":490,"view":{"fill":"#000000"},"mark":{"type":"text","text":"","fontSize":0}}
],"spacing":0},
{"width":1352,"height":2,"view":{"fill":"#000000"},"mark":{"type":"text","text":"","fontSize":0}},
{"hconcat":[
 {"width":2,"height":21,"view":{"fill":"#000000"},"mark":{"type":"text","text":"","fontSize":0}},
 {"width":672,"height":21,"mark":{"type":"text","text":"2441 MHz","fontSize":18,"fontStyle":"italic","align":"center","fill":"#000000"},"encoding":{"x":{"datum":0.5,"type":"quantitative","scale":{"domain":[0,1]},"axis":null},"y":{"datum":0.52,"type":"quantitative","scale":{"domain":[0,1],"reverse":true},"axis":null}}},
 {"width":2,"height":21,"view":{"fill":"#000000"},"mark":{"type":"text","text":"","fontSize":0}},
 {"width":674,"height":21,"mark":{"type":"text","text":"2441 MHz","fontSize":18,"fontStyle":"italic","align":"center","fill":"#000000"},"encoding":{"x":{"datum":0.5,"type":"quantitative","scale":{"domain":[0,1]},"axis":null},"y":{"datum":0.52,"type":"quantitative","scale":{"domain":[0,1],"reverse":true},"axis":null}}},
 {"width":2,"height":21,"view":{"fill":"#000000"},"mark":{"type":"text","text":"","fontSize":0}}
],"spacing":0,"bounds":"flush"},
{"width":1352,"height":2,"view":{"fill":"#000000"},"mark":{"type":"text","text":"","fontSize":0}}
]
}
